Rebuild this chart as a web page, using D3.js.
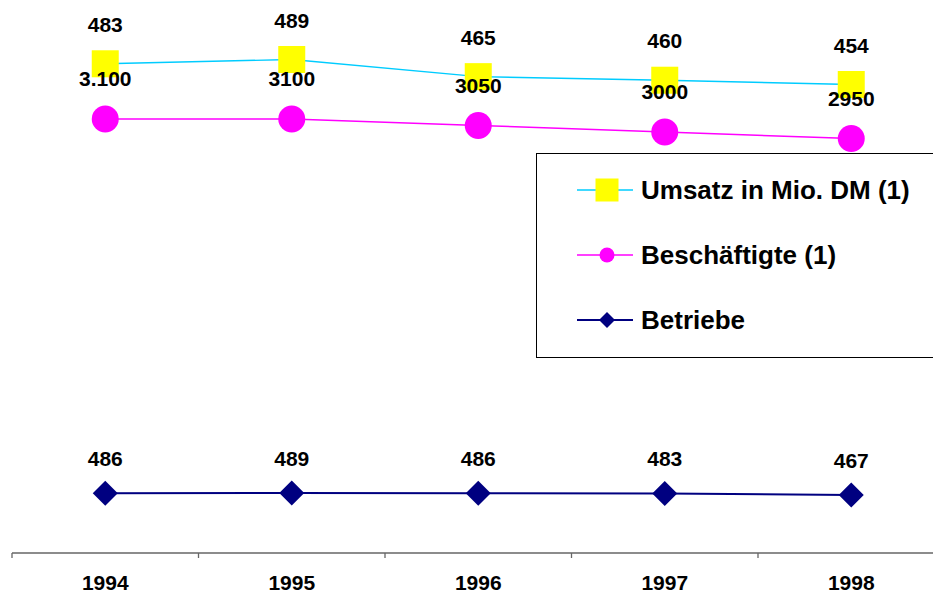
<!DOCTYPE html>
<html>
<head>
<meta charset="utf-8">
<script src="https://cdn.jsdelivr.net/npm/d3@7"></script>
<style>
  html, body { margin: 0; padding: 0; background: #fff; }
  svg { display: block; font-family: Arial, "Liberation Sans", sans-serif; }
</style>
</head>
<body>
<svg id="chart"></svg>
<script>
// data
const years = ["1994", "1995", "1996", "1997", "1998"];
const umsatz = [483, 489, 465, 460, 454];
const beschaeftigte = [3100, 3100, 3050, 3000, 2950];
const beschLabels = ["3.100", "3100", "3050", "3000", "2950"];
const betriebe = [486, 489, 486, 483, 467];
const legendNames = ["Umsatz in Mio. DM (1)", "Beschäftigte (1)", "Betriebe"];

const width = 933, height = 594;
const svg = d3.select('#chart').attr('width', width).attr('height', height);

const x = d3.scaleBand().domain(years).range([12, 12 + 5 * 186.5]).padding(0);
const cx = d => x(d) + x.bandwidth() / 2;

// every series has its own value axis (hidden)
const yUms = d3.scaleLinear().domain([454, 489]).range([84.5, 59.5]);
const yBes = d3.scaleLinear().domain([2950, 3100]).range([138.5, 119]);
const yBet = d3.scaleLinear().domain([467, 489]).range([495, 493]);

const axisY = 553;

// category axis
svg.append('line')
    .attr('x1', 12).attr('x2', width)
    .attr('y1', axisY).attr('y2', axisY)
    .attr('stroke', '#666').attr('stroke-width', 1.3);

years.forEach(yr => {
    svg.append('line')
        .attr('x1', x(yr)).attr('x2', x(yr))
        .attr('y1', axisY).attr('y2', axisY + 5)
        .attr('stroke', '#666').attr('stroke-width', 1.3);
    svg.append('text')
        .attr('x', cx(yr)).attr('y', axisY + 37)
        .attr('text-anchor', 'middle')
        .style('font-size', '21px').style('font-weight', 'bold')
        .text(yr);
});

const series = [
    { values: umsatz, y: yUms, color: '#00ccff', width: 1.4, marker: 'square', labels: umsatz.map(String), dy: -32 },
    { values: beschaeftigte, y: yBes, color: '#ff00ff', width: 1.5, marker: 'circle', labels: beschLabels, dy: -33 },
    { values: betriebe, y: yBet, color: '#000080', width: 2, marker: 'diamond', labels: betriebe.map(String), dy: -27.5 }
];

const markerColor = { square: '#ffff00', circle: '#ff00ff', diamond: '#000080' };

function drawMarker(g, type, px, py, size) {
    if (type === 'square') {
        g.append('rect')
            .attr('x', px - size / 2).attr('y', py - size / 2)
            .attr('width', size).attr('height', size)
            .attr('fill', markerColor.square);
    } else if (type === 'circle') {
        g.append('circle')
            .attr('cx', px).attr('cy', py).attr('r', size / 2)
            .attr('fill', markerColor.circle);
    } else {
        const h = size / 2;
        g.append('polygon')
            .attr('points', [[px, py - h], [px + h, py], [px, py + h], [px - h, py]].map(p => p.join(',')).join(' '))
            .attr('fill', markerColor.diamond);
    }
}

const lineLayer = svg.append('g');
const markerLayer = svg.append('g');
const labelLayer = svg.append('g');

series.forEach(s => {
    const line = d3.line()
        .x((d, i) => cx(years[i]))
        .y(d => s.y(d));
    lineLayer.append('path')
        .datum(s.values)
        .attr('d', line)
        .attr('fill', 'none')
        .attr('stroke', s.color)
        .attr('stroke-width', s.width);

    s.values.forEach((v, i) => {
        const size = s.marker === 'diamond' ? 25 : 27;
        drawMarker(markerLayer, s.marker, cx(years[i]), s.y(v), size);
        labelLayer.append('text')
            .attr('x', cx(years[i]))
            .attr('y', s.y(v) + s.dy)
            .attr('text-anchor', 'middle')
            .style('font-size', '21px').style('font-weight', 'bold')
            .text(s.labels[i]);
    });
});

// legend
const legend = svg.append('g');
legend.append('rect')
    .attr('x', 536.5).attr('y', 153.5)
    .attr('width', 420).attr('height', 204)
    .attr('fill', '#fff').attr('stroke', '#000').attr('stroke-width', 1);

const legendSizes = [23, 15, 16];
series.forEach((s, i) => {
    const ly = 190 + i * 65;
    legend.append('line')
        .attr('x1', 577).attr('x2', 633)
        .attr('y1', ly).attr('y2', ly)
        .attr('stroke', s.color).attr('stroke-width', s.width);
    drawMarker(legend, s.marker, 607, ly, legendSizes[i]);
    legend.append('text')
        .attr('x', 641).attr('y', ly + 9)
        .style('font-size', '26px').style('font-weight', 'bold')
        .text(legendNames[i]);
});
</script>
</body>
</html>
